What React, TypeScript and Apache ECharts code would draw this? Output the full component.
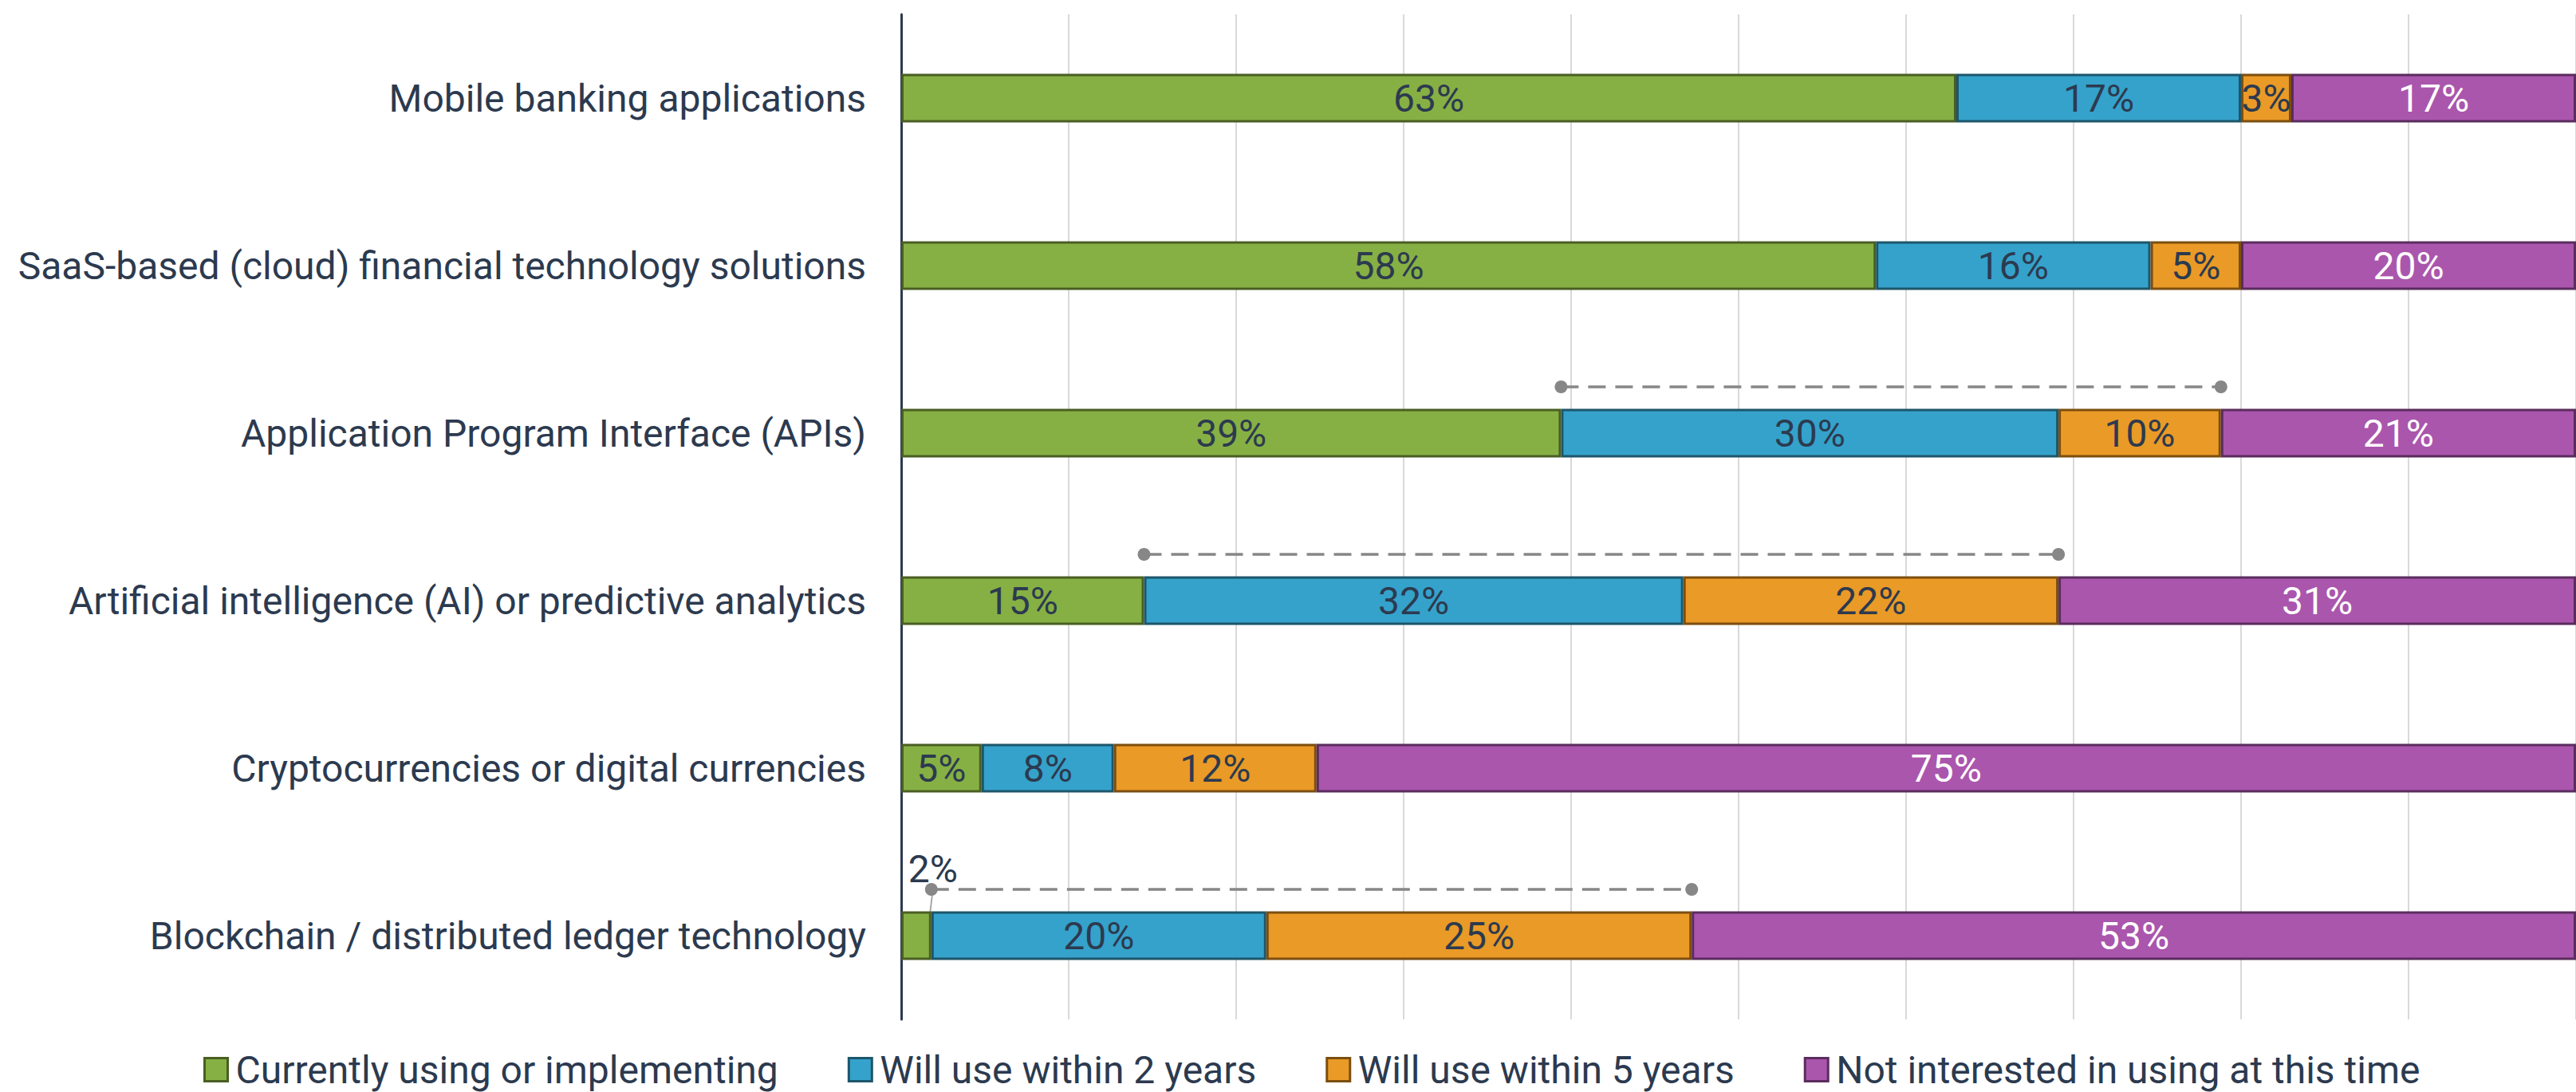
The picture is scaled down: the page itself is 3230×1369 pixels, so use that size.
import React, { useEffect, useRef } from "react";
import * as echarts from "echarts";

const categories = [
  "Mobile banking applications",
  "SaaS-based (cloud) financial technology solutions",
  "Application Program Interface (APIs)",
  "Artificial intelligence (AI) or predictive analytics",
  "Cryptocurrencies or digital currencies",
  "Blockchain / distributed ledger technology",
];

const seriesNames = [
  "Currently using or implementing",
  "Will use within 2 years",
  "Will use within 5 years",
  "Not interested in using at this time",
];

const currentlyUsing = [63, 58.2, 39.4, 14.5, 4.8, 1.8];
const within2Years = [17, 16.4, 29.7, 32.2, 7.9, 20.0];
const within5Years = [3, 5.4, 9.7, 22.4, 12.1, 25.4];
const notInterested = [17, 20.0, 21.2, 30.9, 75.2, 52.8];

// rows that carry a dashed span over the "will use" segments
const spanRows = [2, 3, 5];

const fills = ["#86b044", "#35a2cb", "#ea9a26", "#aa56ad"];
const borders = ["#4a5e23", "#1d566b", "#7c4e0f", "#5b2c5e"];
const textDark = "#2c3a4f";
const FONT = "Roboto";
const FS = 48;

export default function App() {
  const ref = useRef<HTMLDivElement>(null);

  useEffect(() => {
    if (!ref.current) return;
    const chart = echarts.init(ref.current, undefined, { renderer: "svg" });

    const values = [currentlyUsing, within2Years, within5Years, notInterested];

    const barSeries = values.map((arr, si) => ({
      name: seriesNames[si],
      type: "bar",
      stack: "total",
      barWidth: 61,
      itemStyle: { color: fills[si], borderColor: borders[si], borderWidth: 3 },
      label: {
        show: true,
        position: "inside",
        fontFamily: FONT,
        fontSize: FS,
        color: si === 3 ? "#ffffff" : textDark,
        formatter: (p: any) => Math.round(p.value) + "%",
      },
      labelLayout:
        si === 0
          ? (p: any) => (p.dataIndex === 5 ? { dx: 21, dy: -24 } : {})
          : undefined,
      data: arr.map((v, i) =>
        si === 0 && i === 5
          ? {
              value: v,
              label: { position: "top", distance: 5 },
              labelLine: { show: true, lineStyle: { color: "#a6a6a6", width: 2 } },
            }
          : v
      ),
    }));

    const spanData = spanRows.map((r) => [
      currentlyUsing[r],
      r,
      currentlyUsing[r] + within2Years[r] + within5Years[r],
    ]);

    const spanSeries = {
      name: "span",
      type: "custom",
      z: 5,
      encode: { x: [0, 2], y: 1 },
      data: spanData,
      renderItem: (params: any, api: any) => {
        const cat = api.value(1);
        const s = api.coord([api.value(0), cat]);
        const e = api.coord([api.value(2), cat]);
        const dy = -58;
        const c = "#878787";
        return {
          type: "group",
          children: [
            {
              type: "line",
              shape: { x1: s[0], y1: s[1] + dy, x2: e[0], y2: e[1] + dy },
              style: { stroke: c, lineWidth: 3.5, lineDash: [22, 12] },
            },
            { type: "circle", shape: { cx: s[0], cy: s[1] + dy, r: 8 }, style: { fill: c } },
            { type: "circle", shape: { cx: e[0], cy: e[1] + dy, r: 8 }, style: { fill: c } },
          ],
        };
      },
    };

    chart.setOption({
      animation: false,
      backgroundColor: "#ffffff",
      textStyle: { fontFamily: FONT },
      grid: { left: 1130, top: 18, width: 2105, bottom: 91, containLabel: false },
      legend: {
        data: seriesNames,
        left: 255,
        top: 1317,
        padding: 0,
        itemWidth: 29,
        itemHeight: 29,
        itemGap: 87,
        icon: "rect",
        itemStyle: { borderWidth: 3 },
        textStyle: { fontFamily: FONT, fontSize: FS, color: textDark, padding: [0, 0, 0, 5] },
      },
      xAxis: {
        type: "value",
        min: 0,
        max: 100,
        interval: 10,
        axisLabel: { show: false },
        axisLine: { show: false },
        axisTick: { show: false },
        splitLine: { show: true, lineStyle: { color: "#d9d9d9", width: 2 } },
      },
      yAxis: {
        type: "category",
        data: categories,
        inverse: true,
        axisTick: { show: false },
        axisLine: { show: true, lineStyle: { color: "#2c3a4f", width: 3 } },
        axisLabel: { fontFamily: FONT, fontSize: FS, color: textDark, margin: 44 },
        splitLine: { show: false },
      },
      series: [...barSeries, spanSeries],
    });

    return () => chart.dispose();
  }, []);

  return (
    <div
      ref={ref}
      style={{ position: "absolute", left: 0, top: 0, width: 3230, height: 1369 }}
    />
  );
}
